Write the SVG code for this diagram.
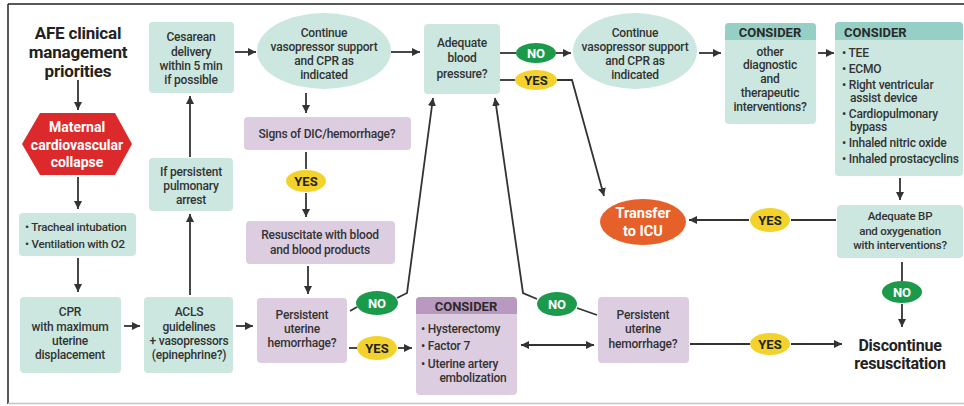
<svg xmlns="http://www.w3.org/2000/svg" width="964" height="406" viewBox="0 0 964 406">
<defs>
<marker id="ah" markerUnits="userSpaceOnUse" markerWidth="9" markerHeight="8" refX="8" refY="4" orient="auto-start-reverse"><path d="M0,0 L8,4 L0,8 z" fill="#333"/></marker>
</defs>
<style>
.tb{fill:#cbe7e0}
.th{fill:#96cfc6}
.pb{fill:#ddcde1}
.ph{fill:#b999bf}
.t{font-family:Roboto,"Liberation Sans",sans-serif;font-size:12px;font-weight:500;fill:#333;text-anchor:middle;letter-spacing:-0.2px}
.s{font-size:11.5px}
.l{text-anchor:start}
.h{font-weight:700;font-size:13px;fill:#2a2a2a;letter-spacing:0}
.big{font-family:Roboto,"Liberation Sans",sans-serif;font-size:16px;font-weight:700;fill:#222;text-anchor:middle;letter-spacing:-0.2px}
.ttl{font-size:17px}
.w{font-family:Roboto,"Liberation Sans",sans-serif;font-weight:700;fill:#fff;text-anchor:middle}
.lk{stroke:#333;stroke-width:1.8;fill:none}
.a{marker-end:url(#ah)}
.no{fill:#1c9a4c}
.yes{fill:#f4d22c}
.nt{font-family:Roboto,"Liberation Sans",sans-serif;font-size:13px;font-weight:700;fill:#fff;text-anchor:middle}
.yt{font-family:Roboto,"Liberation Sans",sans-serif;font-size:13px;font-weight:700;fill:#222;text-anchor:middle}
</style>
<rect width="964" height="406" fill="#fff"/>
<path d="M8,4 H964" stroke="#222" stroke-width="1.5"/>
<path d="M8,4 V404" stroke="#222" stroke-width="1.5"/>
<path d="M8,403.5 H964" stroke="#c4c4c4" stroke-width="1.5"/>

<g id="connectors">
<path class="lk a" d="M78,80 V110"/>
<path class="lk a" d="M78,177 V209"/>
<path class="lk a" d="M78,258 V292"/>
<path class="lk a" d="M124,326 H140"/>
<path class="lk a" d="M190,295 V214"/>
<path class="lk a" d="M190,157 V96"/>
<path class="lk a" d="M235,52 H256"/>
<path class="lk a" d="M391,52 H420"/>
<path class="lk a" d="M306,93 V113"/>
<path class="lk" d="M306,152 V169"/>
<path class="lk a" d="M306,193 V217"/>
<path class="lk a" d="M308,266 V294"/>
<path class="lk a" d="M236,326 H253"/>
<path class="lk" d="M350,311 L357,307"/>
<path class="lk a" d="M397,298 L407,293 L433,98"/>
<path class="lk" d="M349,348 H357"/>
<path class="lk a" d="M398,348 H412"/>
<path class="lk a" d="M521,345 H594" marker-start="url(#ah)"/>
<path class="lk" d="M597,315 L577,308"/>
<path class="lk a" d="M537,299 L523,293 L495,98"/>
<path class="lk" d="M690,344 H750"/>
<path class="lk a" d="M791,344 H842"/>
<path class="lk" d="M500,53 H516"/>
<path class="lk a" d="M556,53 H571"/>
<path class="lk" d="M500,80 H515"/>
<path class="lk a" d="M557,80 L572,80 L604,196"/>
<path class="lk a" d="M699,53 H721"/>
<path class="lk a" d="M818,53 H834"/>
<path class="lk a" d="M900,178 V200"/>
<path class="lk" d="M836,220 H791"/>
<path class="lk a" d="M749,220 H689"/>
<path class="lk" d="M902,262 V281"/>
<path class="lk a" d="M902,304 V327"/>
</g>

<g id="title">
<text class="big ttl" x="78" y="39">AFE clinical</text>
<text class="big ttl" x="78" y="58">management</text>
<text class="big ttl" x="78" y="77">priorities</text>
</g>

<g id="collapse">
<polygon points="22,144 40,113 115,113 132,144 115,175 40,175" fill="#dc2a2c"/>
<text class="w" font-size="14" x="77" y="132">Maternal</text>
<text class="w" font-size="14" x="77" y="150">cardiovascular</text>
<text class="w" font-size="14" x="77" y="167">collapse</text>
</g>

<g id="tracheal">
<rect class="tb" x="19" y="213" width="117" height="43" rx="4"/>
<text class="t s l" x="25" y="231">• Tracheal intubation</text>
<text class="t s l" x="25" y="248">• Ventilation with O2</text>
</g>

<g id="cpr">
<rect class="tb" x="20" y="297" width="101" height="76" rx="4"/>
<text class="t" x="70" y="316">CPR</text>
<text class="t" x="70" y="331">with maximum</text>
<text class="t" x="70" y="345">uterine</text>
<text class="t" x="70" y="359">displacement</text>
</g>

<g id="acls">
<rect class="tb" x="144" y="297" width="89" height="76" rx="4"/>
<text class="t" x="189" y="316">ACLS</text>
<text class="t" x="189" y="331">guidelines</text>
<text class="t" x="189" y="345">+ vasopressors</text>
<text class="t" x="189" y="359">(epinephrine?)</text>
</g>

<g id="pulmonary">
<rect class="tb" x="149" y="158" width="84" height="53" rx="4"/>
<text class="t" x="191" y="176">If persistent</text>
<text class="t" x="191" y="190">pulmonary</text>
<text class="t" x="191" y="204">arrest</text>
</g>

<g id="cesarean">
<rect class="tb" x="149" y="22" width="85" height="71" rx="4"/>
<text class="t" x="191" y="41">Cesarean</text>
<text class="t" x="191" y="56">delivery</text>
<text class="t" x="191" y="70">within 5 min</text>
<text class="t" x="191" y="84">if possible</text>
</g>

<g id="continue1">
<ellipse class="tb" cx="324" cy="51" rx="67" ry="38"/>
<text class="t" x="324" y="37">Continue</text>
<text class="t" x="324" y="51">vasopressor support</text>
<text class="t" x="324" y="65">and CPR as</text>
<text class="t" x="324" y="79">indicated</text>
</g>

<g id="adequate">
<rect class="tb" x="424" y="24" width="76" height="70" rx="4"/>
<text class="t" x="462" y="47">Adequate</text>
<text class="t" x="462" y="62">blood</text>
<text class="t" x="462" y="78">pressure?</text>
</g>

<g id="dic">
<rect class="pb" x="244" y="117" width="167" height="33" rx="4"/>
<text class="t" x="327" y="138">Signs of DIC/hemorrhage?</text>
</g>

<g id="yes-dic">
<ellipse class="yes" cx="306" cy="181" rx="20" ry="11"/>
<text class="yt" x="306" y="186">YES</text>
</g>

<g id="resuscitate">
<rect class="pb" x="246" y="221" width="149" height="43" rx="4"/>
<text class="t" x="320" y="239">Resuscitate with blood</text>
<text class="t" x="320" y="254">and blood products</text>
</g>

<g id="persistent1">
<rect class="pb" x="257" y="298" width="90" height="65" rx="4"/>
<text class="t" x="302" y="319">Persistent</text>
<text class="t" x="302" y="333">uterine</text>
<text class="t" x="302" y="347">hemorrhage?</text>
</g>

<g id="no-p1">
<ellipse class="no" cx="377" cy="303" rx="21" ry="12"/>
<text class="nt" x="377" y="308">NO</text>
</g>

<g id="yes-p1">
<ellipse class="yes" cx="377" cy="348" rx="20" ry="12"/>
<text class="yt" x="377" y="353">YES</text>
</g>

<g id="consider-surgical">
<rect class="pb" x="416" y="297" width="101" height="98" rx="4"/>
<path class="ph" d="M420,297 H513 A4,4 0 0 1 517,301 V314 H416 V301 A4,4 0 0 1 420,297 Z"/>
<text class="t h" x="466" y="311">CONSIDER</text>
<text class="t l" x="421" y="333">• Hysterectomy</text>
<text class="t l" x="421" y="350">• Factor 7</text>
<text class="t l" x="421" y="368">• Uterine artery</text>
<text class="t" x="473" y="382">embolization</text>
</g>

<g id="persistent2">
<rect class="pb" x="598" y="297" width="91" height="66" rx="4"/>
<text class="t" x="643" y="319">Persistent</text>
<text class="t" x="643" y="333">uterine</text>
<text class="t" x="643" y="348">hemorrhage?</text>
</g>

<g id="no-p2">
<ellipse class="no" cx="557" cy="304" rx="20" ry="12"/>
<text class="nt" x="557" y="309">NO</text>
</g>

<g id="yes-p2">
<ellipse class="yes" cx="770" cy="344" rx="20" ry="11"/>
<text class="yt" x="770" y="349">YES</text>
</g>

<g id="discontinue">
<text class="big" x="900" y="351">Discontinue</text>
<text class="big" x="900" y="369">resuscitation</text>
</g>

<g id="no-bp">
<ellipse class="no" cx="536" cy="53" rx="20" ry="10"/>
<text class="nt" x="536" y="58">NO</text>
</g>

<g id="yes-bp">
<ellipse class="yes" cx="536" cy="80" rx="21" ry="10"/>
<text class="yt" x="536" y="85">YES</text>
</g>

<g id="continue2">
<ellipse class="tb" cx="635" cy="51" rx="62" ry="38"/>
<text class="t" x="635" y="37">Continue</text>
<text class="t" x="635" y="51">vasopressor support</text>
<text class="t" x="635" y="65">and CPR as</text>
<text class="t" x="635" y="79">indicated</text>
</g>

<g id="consider-other">
<rect class="tb" x="725" y="23" width="91" height="101" rx="4"/>
<path class="th" d="M729,23 H812 A4,4 0 0 1 816,27 V40 H725 V27 A4,4 0 0 1 729,23 Z"/>
<text class="t h" x="770" y="37">CONSIDER</text>
<text class="t" x="770" y="56">other</text>
<text class="t" x="770" y="69">diagnostic</text>
<text class="t" x="770" y="83">and</text>
<text class="t" x="770" y="97">therapeutic</text>
<text class="t" x="770" y="111">interventions?</text>
</g>

<g id="consider-advanced">
<rect class="tb" x="835" y="22" width="128" height="154" rx="4"/>
<path class="th" d="M839,22 H959 A4,4 0 0 1 963,26 V40 H835 V26 A4,4 0 0 1 839,22 Z"/>
<text class="t h l" x="844" y="37">CONSIDER</text>
<text class="t l" x="842" y="57">• TEE</text>
<text class="t l" x="842" y="73">• ECMO</text>
<text class="t l" x="842" y="89">• Right ventricular</text>
<text class="t l" x="850" y="102">assist device</text>
<text class="t l" x="842" y="118">• Cardiopulmonary</text>
<text class="t l" x="850" y="131">bypass</text>
<text class="t l" x="842" y="147">• Inhaled nitric oxide</text>
<text class="t l" x="842" y="163">• Inhaled prostacyclins</text>
</g>

<g id="adequate-bp">
<rect class="tb" x="837" y="205" width="126" height="53" rx="4"/>
<text class="t s" x="900" y="220">Adequate BP</text>
<text class="t s" x="900" y="235">and oxygenation</text>
<text class="t s" x="900" y="249">with interventions?</text>
</g>

<g id="yes-bp2">
<ellipse class="yes" cx="770" cy="220" rx="20" ry="12"/>
<text class="yt" x="770" y="225">YES</text>
</g>

<g id="no-bp2">
<ellipse class="no" cx="902" cy="292" rx="20" ry="11"/>
<text class="nt" x="902" y="297">NO</text>
</g>

<g id="transfer">
<ellipse cx="643" cy="222" rx="43" ry="23" fill="#e6602a"/>
<text class="w" font-size="14.5" x="643" y="218">Transfer</text>
<text class="w" font-size="14.5" x="643" y="236">to ICU</text>
</g>
</svg>
